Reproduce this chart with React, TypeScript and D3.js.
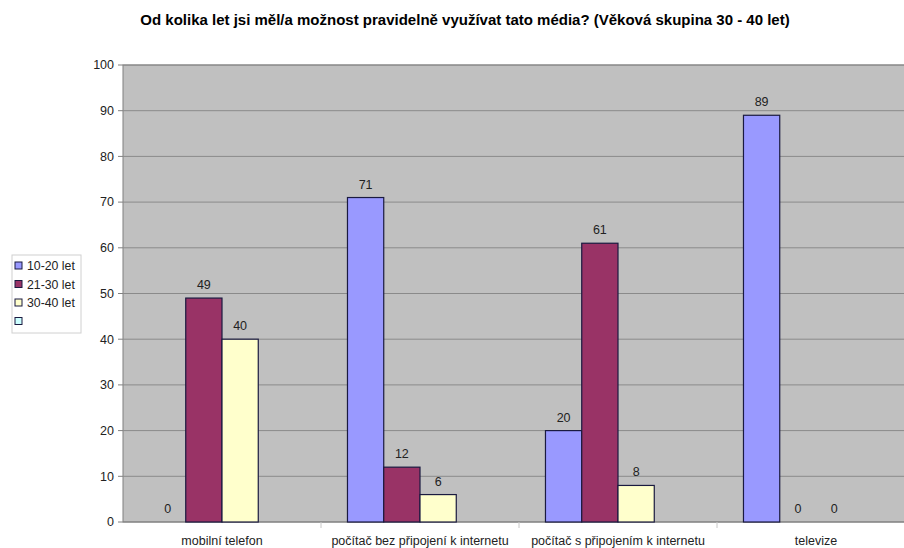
import * as d3 from 'd3';
import React from 'react';

const title = 'Od kolika let jsi měl/a možnost pravidelně využívat tato média? (Věková skupina 30 - 40 let)';
const categories = ['mobilní telefon', 'počítač bez připojení k internetu', 'počítač s připojením k internetu', 'televize'];
const seriesNames = ['10-20 let', '21-30 let', '30-40 let', ''];
const series1020 = [0, 71, 20, 89];
const series2130 = [49, 12, 61, 0];
const series3040 = [40, 6, 8, 0];
const seriesEmpty: (number | null)[] = [null, null, null, null];
const yTicks = [0, 10, 20, 30, 40, 50, 60, 70, 80, 90, 100];
const colors = ['#9999FF', '#993366', '#FFFFCC', '#CCFFFF'];

const W = 904;
const H = 548;
const plot = { left: 123, top: 65, right: 915, bottom: 522 };
const font = 'Liberation Sans, Arial, sans-serif';

const App: React.FC = () => {
  const allSeries = [series1020, series2130, series3040, seriesEmpty];

  const x = d3.scaleBand<string>().domain(categories).range([plot.left, plot.right]);
  const inner = d3
    .scaleBand<number>()
    .domain(d3.range(seriesNames.length))
    .range([0, x.bandwidth()])
    .paddingOuter(0.73)
    .paddingInner(0);
  const y = d3.scaleLinear().domain([0, 100]).range([plot.bottom, plot.top]);

  return (
    <svg
      width={W}
      height={H}
      style={{ position: 'absolute', left: 0, top: 0, background: '#fff', fontFamily: font }}
    >
      <text x={465} y={25} textAnchor="middle" fontSize={15} fontWeight="bold" fill="#000">
        {title}
      </text>

      {/* plocha grafu */}
      <rect
        x={plot.left}
        y={plot.top}
        width={plot.right - plot.left}
        height={plot.bottom - plot.top}
        fill="#C0C0C0"
        stroke="#808080"
      />
      {yTicks.map((t) => (
        <g key={t}>
          {t > 0 && (
            <line x1={plot.left} x2={plot.right} y1={y(t)} y2={y(t)} stroke="#8a8a8a" strokeWidth={1} />
          )}
          <line x1={plot.left - 5} x2={plot.left} y1={y(t)} y2={y(t)} stroke="#808080" />
          <text x={plot.left - 9} y={y(t)} dy="0.35em" textAnchor="end" fontSize={12.5} fill="#222">
            {t}
          </text>
        </g>
      ))}
      <line x1={plot.left} x2={plot.right} y1={plot.bottom} y2={plot.bottom} stroke="#808080" />
      {categories.map((c, i) => (
        <g key={c}>
          {i > 0 && (
            <line
              x1={x(c)!}
              x2={x(c)!}
              y1={plot.bottom}
              y2={plot.bottom + 6}
              stroke="#c8c8c8"
            />
          )}
          <text
            x={x(c)! + x.bandwidth() / 2}
            y={545}
            textAnchor="middle"
            fontSize={12.5}
            fill="#222"
          >
            {c}
          </text>
        </g>
      ))}

      {/* sloupce */}
      {allSeries.map((vals, si) =>
        vals.map((v, ci) => {
          if (v === null) return null;
          const bx = x(categories[ci])! + inner(si)!;
          const bw = inner.bandwidth();
          return (
            <g key={`${si}-${ci}`}>
              {v > 0 && (
                <rect
                  x={bx}
                  y={y(v)}
                  width={bw}
                  height={plot.bottom - y(v)}
                  fill={colors[si]}
                  stroke="#1a1a40"
                  strokeWidth={1.2}
                />
              )}
              <text
                x={bx + bw / 2}
                y={y(v) - 9}
                textAnchor="middle"
                fontSize={12.5}
                fill="#222"
              >
                {v}
              </text>
            </g>
          );
        })
      )}

      {/* legenda */}
      <rect x={12} y={255} width={69} height={78} fill="#fff" stroke="#d0d0d0" />
      {seriesNames.map((n, i) => (
        <g key={i}>
          <rect
            x={15}
            y={262 + i * 18.5}
            width={7}
            height={7}
            fill={colors[i]}
            stroke="#1a1a40"
            strokeWidth={1}
          />
          <text x={27} y={266 + i * 18.5} dy="0.35em" fontSize={12.3} fill="#222">
            {n}
          </text>
        </g>
      ))}
    </svg>
  );
};

export default App;
